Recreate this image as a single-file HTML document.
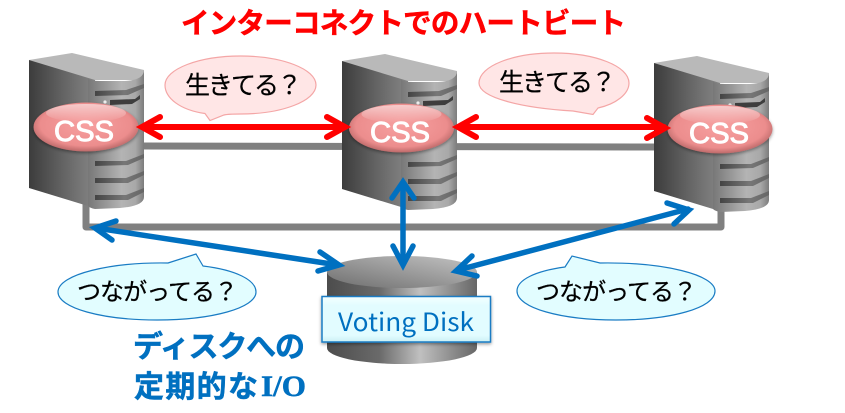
<!DOCTYPE html>
<html><head><meta charset="utf-8"><style>
html,body{margin:0;padding:0;background:#fff;width:845px;height:413px;overflow:hidden}
svg{display:block}
text{font-family:"Liberation Sans","Noto Sans CJK JP",sans-serif}
</style></head><body>
<svg width="845" height="413" viewBox="0 0 845 413" xmlns="http://www.w3.org/2000/svg">
<defs>
<linearGradient id="side" x1="0" x2="1" y1="0" y2="0"><stop offset="0" stop-color="#3c3c3c"/><stop offset="0.55" stop-color="#666"/><stop offset="1" stop-color="#858585"/></linearGradient>
<linearGradient id="front" x1="0" x2="1" y1="0" y2="0"><stop offset="0" stop-color="#777"/><stop offset="0.6" stop-color="#b4b4b4"/><stop offset="0.85" stop-color="#a8a8a8"/><stop offset="1" stop-color="#7c7c7c"/></linearGradient>
<linearGradient id="slot" x1="0" x2="1" y1="0" y2="0"><stop offset="0" stop-color="#444"/><stop offset="0.6" stop-color="#777"/><stop offset="1" stop-color="#666"/></linearGradient>
<radialGradient id="css" cx="0.5" cy="0.45" r="0.58"><stop offset="0" stop-color="#f7a0a0"/><stop offset="0.75" stop-color="#ec8d8d"/><stop offset="1" stop-color="#b06060"/></radialGradient>
<linearGradient id="csstop" x1="0" x2="0" y1="0" y2="1"><stop offset="0" stop-color="#fff" stop-opacity=".55"/><stop offset="1" stop-color="#fff" stop-opacity="0"/></linearGradient>
<linearGradient id="cyl" x1="0" x2="1" y1="0" y2="0"><stop offset="0" stop-color="#4c4c4c"/><stop offset="0.35" stop-color="#6a6a6a"/><stop offset="0.62" stop-color="#c0c0c0"/><stop offset="1" stop-color="#666"/></linearGradient>
<linearGradient id="cyltop" x1="0" x2="1" y1="1" y2="0"><stop offset="0" stop-color="#6e6e6e"/><stop offset="1" stop-color="#c4c4c4"/></linearGradient>
<linearGradient id="label" x1="0" x2="0" y1="0" y2="1"><stop offset="0" stop-color="#f4ffff"/><stop offset="0.2" stop-color="#e2fcff"/><stop offset="0.85" stop-color="#e2fcff"/><stop offset="1" stop-color="#ccf0f4"/></linearGradient>
<filter id="sh" x="-10%" y="-10%" width="120%" height="130%"><feDropShadow dx="0" dy="1.5" stdDeviation="1.5" flood-color="#000" flood-opacity=".4"/></filter>
<g id="server">
<path d="M29 60 L72 53 L144 70 L144 80 L95 80 C88 80 80 77 70 74 Z" fill="#b9b9b9"/>
<path d="M29 60 L95 80 L95 207 L88 206 L29 188 Z" fill="url(#side)"/>
<path d="M144 70 L144 197 Q144 206 120 208 L95 209 Q90 208 88 206 L88 79 Q92 81 100 81 L125 81 Q144 80 144 70 Z" fill="url(#front)"/>
<path d="M95 91 L126 90 L144 84 L144 88 L128 95 L95 96 Z" fill="url(#slot)"/>
<path d="M110 100 L135 99 L140 95 L140 99 L132 104 L110 105 Z" fill="#3e3e3e"/>
<path d="M95 161 L126 161 L144 154 L144 158 L128 165 L95 166 Z" fill="url(#slot)"/>
<path d="M95 178 L126 178 L144 171 L144 175 L128 183 L95 183 Z" fill="url(#slot)"/>
<path d="M95 195 L126 195 L144 188 L144 192 L128 200 L95 200 Z" fill="url(#slot)"/>
<circle cx="105" cy="102" r="1.6" fill="#eee"/>
</g>
</defs>

<!-- network lines -->
<path d="M144 146 L656 147" stroke="#808080" stroke-width="7" fill="none"/>
<path d="M86 204 L86 227 L721 227 L721 210" stroke="#808080" stroke-width="7" fill="none" stroke-linejoin="round"/>

<!-- servers -->
<use href="#server"/>
<use href="#server" x="313" y="1"/>
<use href="#server" x="625" y="3"/>

<!-- css ellipses -->
<g filter="url(#sh)">
<ellipse cx="86" cy="127" rx="52.5" ry="24.5" fill="url(#css)"/>
<ellipse cx="401.5" cy="128" rx="52.5" ry="24.5" fill="url(#css)"/>
<ellipse cx="720" cy="129" rx="52.5" ry="24.5" fill="url(#css)"/>
</g>
<ellipse cx="86" cy="113" rx="40" ry="9" fill="url(#csstop)"/>
<ellipse cx="401.5" cy="114" rx="40" ry="9" fill="url(#csstop)"/>
<ellipse cx="720" cy="115" rx="40" ry="9" fill="url(#csstop)"/>
<g font-size="29" fill="#fff" stroke="#fff" stroke-width="1">
<text x="54" y="141" textLength="60" lengthAdjust="spacingAndGlyphs">CSS</text>
<text x="370" y="142" textLength="60" lengthAdjust="spacingAndGlyphs">CSS</text>
<text x="689" y="143" textLength="60" lengthAdjust="spacingAndGlyphs">CSS</text>
</g>

<!-- red arrows -->
<g stroke="#ff0000" stroke-width="6" fill="none" stroke-linecap="round" stroke-linejoin="miter">
<path d="M142 127 L344 127"/>
<path d="M160 117 L142 127 L160 137"/>
<path d="M327 117 L345 127 L327 137"/>
<path d="M459 127 L664 127"/>
<path d="M476 117 L458 127 L476 137"/>
<path d="M647 118 L665 128 L647 138"/>
</g>

<!-- disk -->
<path d="M327 272 L327 348 A75 16 0 0 0 477 348 L477 272 Z" fill="url(#cyl)"/>
<ellipse cx="402" cy="272" rx="75" ry="16" fill="url(#cyltop)"/>
<rect x="322" y="296.500" width="168.500" height="45.500" fill="url(#label)" stroke="#1a7cc4" stroke-width="1.500" filter="url(#sh)"/>
<text x="338" y="331" font-size="25" fill="#0070c0" textLength="136" lengthAdjust="spacingAndGlyphs" style="font-family:'Noto Sans CJK JP',sans-serif">Voting Disk</text>

<!-- blue arrows -->
<g stroke="#0070c0" stroke-width="5.500" fill="none" stroke-linecap="round" stroke-linejoin="miter">
<path d="M96 228 L338 265"/>
<path d="M116 221 L95 228 L112 240"/>
<path d="M320 252 L339 265 L318 271"/>
<path d="M403 184 L403 264"/>
<path d="M392 198 L403 182 L414 198"/>
<path d="M393 246 L403 265 L413 246"/>
<path d="M688 209 L458 270"/>
<path d="M667 203 L689 210 L674 224"/>
<path d="M472 256 L456 271 L477 276"/>
</g>

<!-- pink bubbles -->
<path d="M205 113.500 C180 110 165 98 165 85 C165 69 199 56 240.500 56 C282 56 316 69 316 85 C316 101 282 114 240.500 114 C233 114 228 114 224 115 L210 120.500 Z" fill="#ffe6e6" stroke="#f4a6a6" stroke-width="1.200"/>
<path d="M573 111 C523 108 479 98 479 83 C479 66 513 53 554 53 C595 53 629 66 629 83 C629 94 616 104 598 108 L593 114.500 Z" fill="#ffe6e6" stroke="#f4a6a6" stroke-width="1.200"/>
<g font-size="25" fill="#000" stroke="#000" stroke-width=".25" style="font-family:'Noto Sans CJK JP',sans-serif">
<text x="185" y="94" textLength="117" lengthAdjust="spacing">生きてる？</text>
<text x="499" y="91" textLength="117" lengthAdjust="spacing">生きてる？</text>
</g>

<!-- blue bubbles -->
<path d="M168 263 L196 254 L203 266 C236 270 256 280 256 292 C256 308 212 320 157 320 C102 320 58 308 58 292 C58 274 112 262 168 263 Z" fill="#e2fdff" stroke="#1a7cc4" stroke-width="1.200"/>
<path d="M565 267 L572 256 L600 263 C665 262 715 275 715 291 C715 308 671 320 616 320 C561 320 517 308 517 291 C517 280 535 271 565 267 Z" fill="#e2fdff" stroke="#1a7cc4" stroke-width="1.200"/>
<g font-size="24" fill="#000" stroke="#000" stroke-width=".25" style="font-family:'Noto Sans CJK JP',sans-serif">
<text x="77" y="300" textLength="161" lengthAdjust="spacing">つながってる？</text>
<text x="536" y="300" textLength="161" lengthAdjust="spacing">つながってる？</text>
</g>

<!-- title -->
<text x="181" y="33" font-size="28.500" font-weight="bold" fill="#ff0000" stroke="#ff0000" stroke-width=".5" textLength="445" lengthAdjust="spacing" style="font-family:'Noto Sans CJK JP',sans-serif">インターコネクトでのハートビート</text>

<!-- blue caption -->
<g font-size="30" font-weight="bold" fill="#0070c0" stroke="#0070c0" stroke-width=".5" style="font-family:'Noto Sans CJK JP',sans-serif">
<text x="133" y="357" textLength="172" lengthAdjust="spacing">ディスクへの</text>
<text x="134" y="397" textLength="124" lengthAdjust="spacing">定期的な</text>
<text x="261" y="396" textLength="45" lengthAdjust="spacingAndGlyphs" style="font-family:'Liberation Serif',serif">I/O</text>
</g>
</svg>
</body></html>
